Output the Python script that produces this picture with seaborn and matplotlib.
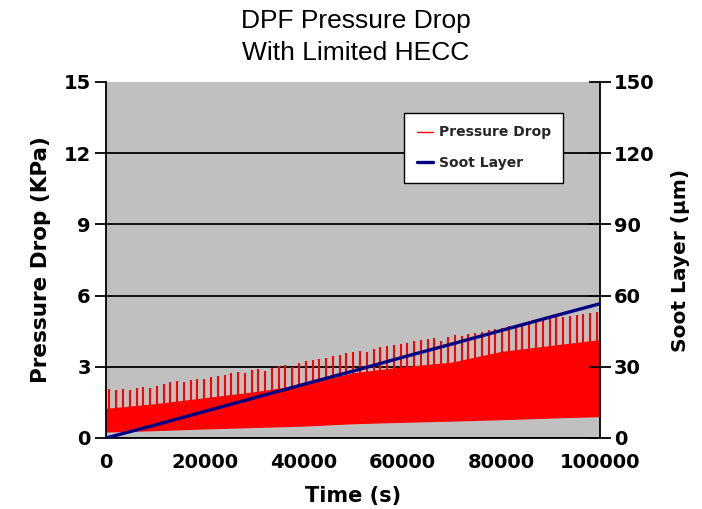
import numpy as np
import matplotlib
matplotlib.use("Agg")
import matplotlib.pyplot as plt
import seaborn as sns
from matplotlib.lines import Line2D

# Time grid (s) for the envelopes and the soot layer
time_knots = [0, 10000, 20000, 30000, 40000, 50000, 60000, 70000, 80000, 90000, 100000]

# Lower and upper edge of the dense pressure-drop band (kPa)
pressure_floor = [0.25, 0.31, 0.38, 0.44, 0.50, 0.60, 0.66, 0.71, 0.77, 0.84, 0.90]
pressure_band_top = [1.25, 1.45, 1.70, 1.95, 2.25, 2.75, 3.00, 3.20, 3.65, 3.90, 4.15]

# Soot layer thickness (um)
soot_layer = [0.0, 5.5, 11.2, 16.9, 22.6, 28.2, 34.0, 39.6, 45.3, 51.0, 56.6]

# Peak pressure drop at each regeneration event (kPa)
regen_period = 1370
first_peak = 700
pressure_peaks = [
    2.05, 2.02, 2.06, 2.04, 2.10, 2.14, 2.12, 2.20, 2.26, 2.34,
    2.40, 2.36, 2.46, 2.50, 2.48, 2.58, 2.62, 2.66, 2.72, 2.80,
    2.72, 2.86, 2.90, 2.84, 2.96, 3.02, 3.06, 3.00, 3.14, 3.25,
    3.28, 3.34, 3.38, 3.45, 3.50, 3.56, 3.62, 3.68, 3.62, 3.76,
    3.82, 3.86, 3.92, 3.98, 4.02, 4.08, 4.12, 4.18, 4.22, 4.10,
    4.26, 4.32, 4.30, 4.38, 4.42, 4.48, 4.54, 4.58, 4.64, 4.70,
    4.76, 4.82, 4.86, 4.92, 4.98, 5.02, 5.08, 5.10, 5.16, 5.20,
    5.24, 5.26, 5.30,
]

x_ticks = [0, 20000, 40000, 60000, 80000, 100000]
left_ticks = [0, 3, 6, 9, 12, 15]
right_ticks = [0, 30, 60, 90, 120, 150]

sns.set_theme(style="white")
plt.rcParams["font.family"] = ["DejaVu Sans"]
plt.rcParams["font.weight"] = "bold"

RED = "#FF0000"
NAVY = "#000080"

fig = plt.figure(figsize=(7.02, 5.09), dpi=100)
ax = fig.add_axes([0.151, 0.1395, 0.704, 0.6995])
ax.set_facecolor("#C0C0C0")

# Pressure drop: dense oscillation band plus regeneration peaks
ax.fill_between(time_knots, pressure_floor, pressure_band_top, color=RED, lw=0, zorder=2)
peak_times = first_peak + regen_period * np.arange(len(pressure_peaks))
ax.vlines(peak_times, 1.0, pressure_peaks, color=RED, lw=1.5, zorder=2)

ax.set_xlim(0, 100000)
ax.set_ylim(0, 15)
ax.set_xticks(x_ticks)
ax.set_yticks(left_ticks)
ax.set_xticklabels([str(v) for v in x_ticks])
ax.yaxis.grid(True, color="black", lw=1.3)
ax.xaxis.grid(False)
ax.set_axisbelow(True)
ax.get_ygridlines()[-1].set_visible(False)
ax.tick_params(axis="both", direction="out", length=8, width=1.3,
               color="black", labelsize=14, labelcolor="black", pad=3)
for s in ["left", "bottom"]:
    ax.spines[s].set_color("black")
    ax.spines[s].set_linewidth(1.3)
ax.spines["top"].set_visible(False)
ax.spines["right"].set_visible(False)
ax.set_xlabel("Time (s)", fontsize=15, fontweight="bold", color="black", labelpad=10)
ax.set_ylabel("Pressure Drop (KPa)", fontsize=15.5, fontweight="bold", color="black", labelpad=9)

# Soot layer on the secondary axis
ax2 = ax.twinx()
sns.lineplot(x=time_knots, y=soot_layer, ax=ax2, color=NAVY, lw=2.4, zorder=3)
ax2.set_ylim(0, 150)
ax2.set_yticks(right_ticks)
ax2.tick_params(axis="y", direction="inout", length=16, width=1.3,
                color="black", labelsize=14, labelcolor="black", pad=2)
for s in ["top", "left", "bottom"]:
    ax2.spines[s].set_visible(False)
ax2.spines["right"].set_color("black")
ax2.spines["right"].set_linewidth(1.3)
ax2.set_ylabel("Soot Layer (\u00b5m)", fontsize=14.5, fontweight="bold", color="black",
               rotation=90, labelpad=12)

handles = [Line2D([], [], color=RED, lw=1.0), Line2D([], [], color=NAVY, lw=2.4)]
leg = ax2.legend(handles, ["Pressure Drop", "Soot Layer"],
                 loc="upper left", bbox_to_anchor=(0.603, 0.913), borderaxespad=0,
                 frameon=True, fancybox=False, framealpha=1, edgecolor="black",
                 prop={"size": 10, "weight": "bold"}, handlelength=1.2,
                 borderpad=0.9, labelspacing=1.2, handletextpad=0.4)
leg.get_frame().set_linewidth(1.0)

fig.text(0.507, 0.982, "DPF Pressure Drop\nWith Limited HECC", ha="center", va="top",
         fontsize=19, fontweight="normal", family="Liberation Sans", color="black",
         linespacing=1.42)

fig.savefig("out.png", dpi=100, facecolor="white")
